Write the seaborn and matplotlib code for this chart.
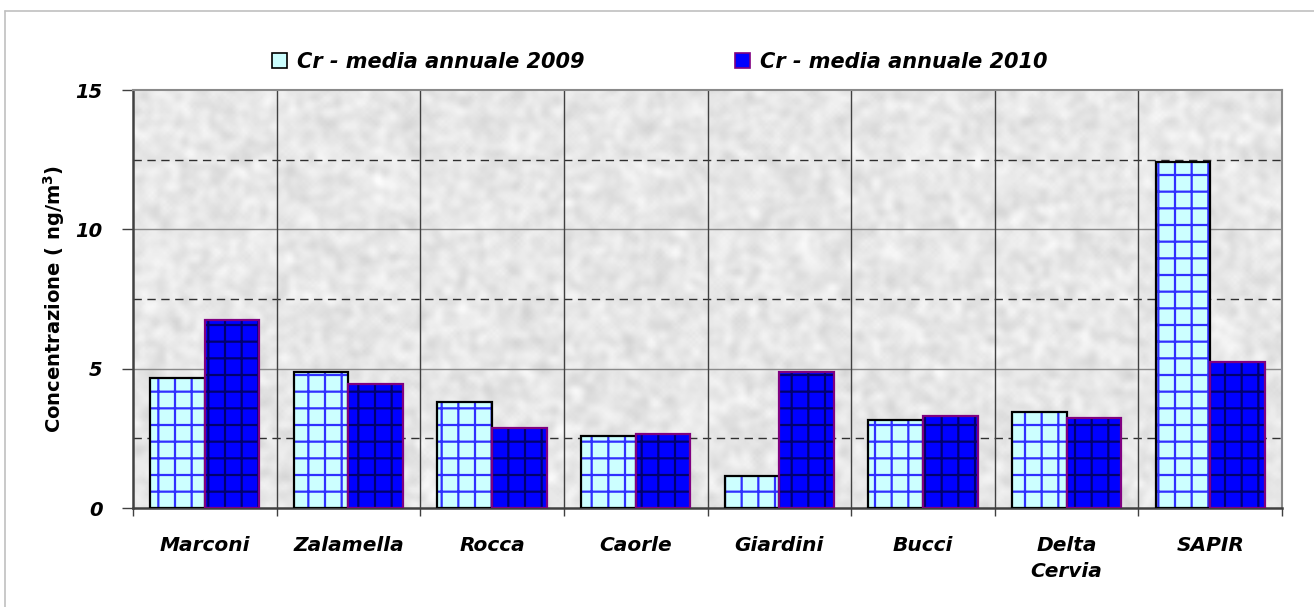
import numpy as np
import pandas as pd
import seaborn as sns
import matplotlib
matplotlib.use("Agg")
import matplotlib.pyplot as plt
from matplotlib.patches import Rectangle, Patch
from matplotlib.lines import Line2D
from matplotlib.ticker import FixedLocator

# Annual mean chromium concentration per station (ng/m3)
stations = ["Marconi", "Zalamella", "Rocca", "Caorle", "Giardini", "Bucci",
            "Delta\nCervia", "SAPIR"]
cr_2009 = [4.66, 4.88, 3.80, 2.58, 1.15, 3.16, 3.44, 12.41]
cr_2010 = [6.75, 4.45, 2.87, 2.66, 4.88, 3.30, 3.23, 5.24]
series = ["Cr - media annuale 2009", "Cr - media annuale 2010"]
y_ticks = [0, 5, 10, 15]
dashed_levels = [2.5, 7.5, 12.5]

df = pd.DataFrame({
    "stazione": stations * 2,
    "serie": [series[0]] * len(stations) + [series[1]] * len(stations),
    "valore": cr_2009 + cr_2010,
})

sns.set_theme(style="white")
plt.rcParams["font.family"] = ["DejaVu Sans"]
plt.rcParams["hatch.linewidth"] = 1.6
for key in ["text.color", "axes.labelcolor", "xtick.color", "ytick.color"]:
    plt.rcParams[key] = "black"

W, H = 1314, 607
fig = plt.figure(figsize=(W / 100, H / 100), dpi=100)
fig.patch.set_facecolor("white")
ax = fig.add_axes([133 / W, 1 - 508 / H, (1282 - 133) / W, (508 - 90) / H])

# mottled stone-like backdrop of the plotting area
rng = np.random.default_rng(7)
tex = rng.random((140, 380))
for _ in range(3):
    tex = (tex + np.roll(tex, 1, 0) + np.roll(tex, -1, 0)
           + np.roll(tex, 1, 1) + np.roll(tex, -1, 1)) / 5
tex = (tex - tex.min()) / (tex.max() - tex.min())
ax.imshow(tex, cmap="gray", vmin=-5.0, vmax=1.05, aspect="auto",
          extent=(-0.5, 7.5, 0, 15), zorder=0.1, interpolation="bilinear")

face = {series[0]: "#ccffff", series[1]: "#0000ff"}
hatch_col = {series[0]: "#3030ff", series[1]: "#000070"}
edge_col = {series[0]: "#000000", series[1]: "#800080"}

sns.barplot(data=df, x="stazione", y="valore", hue="serie", order=stations,
            hue_order=series, palette=face, width=0.76, dodge=True,
            legend=False, ax=ax, zorder=3)

for container, name in zip(ax.containers, series):
    for bar in container:
        bar.set_facecolor(face[name])
        bar.set_edgecolor(hatch_col[name])
        bar.set_hatch("+")
        bar.set_linewidth(0)
        ax.add_patch(Rectangle((bar.get_x(), bar.get_y()), bar.get_width(),
                               bar.get_height(), fill=False,
                               edgecolor=edge_col[name], linewidth=1.6,
                               zorder=4))

ax.set_xlim(-0.5, 7.5)
ax.set_ylim(0, 15)
ax.set_yticks(y_ticks)
ax.set_yticklabels([str(t) for t in y_ticks], fontsize=14,
                   fontweight="bold", fontstyle="italic")
ax.set_xticks(range(len(stations)))
ax.set_xticklabels(stations, fontsize=14.5, fontweight="bold",
                   fontstyle="italic", linespacing=1.5)
ax.xaxis.set_minor_locator(FixedLocator(np.arange(-0.5, 8, 1)))
ax.tick_params(axis="x", which="major", length=0, pad=20)
ax.tick_params(axis="x", which="minor", length=6, width=1, color="#404040",
               direction="out", bottom=True)
ax.tick_params(axis="y", which="major", length=8, width=1, color="#404040",
               direction="out", left=True, pad=14)
ax.set_xlabel("")
ax.set_ylabel("Concentrazione ( ng/m$\\mathbf{^3}$)", fontsize=14,
              fontweight="bold", labelpad=6)

# grid: solid at the major levels, dashed at the half steps
ax.grid(False)
for v in y_ticks[1:-1]:
    ax.axhline(v, color="#8a8a8a", linewidth=1.0, zorder=1)
for v in dashed_levels:
    ax.axhline(v, color="#303030", linewidth=1.0, dashes=(6, 4), zorder=1)
for b in np.arange(0.5, 7.5, 1):
    ax.axvline(b, color="#404040", linewidth=1.0, zorder=1)

for side in ["left", "bottom"]:
    ax.spines[side].set_color("#404040")
    ax.spines[side].set_linewidth(1.8)
for side in ["top", "right"]:
    ax.spines[side].set_color("#8a8a8a")
    ax.spines[side].set_linewidth(1.5)

handles = [Patch(facecolor=face[s], edgecolor=edge_col[s], linewidth=1.2)
           for s in series]
leg = fig.legend(handles, series, loc="center", ncol=2,
                 bbox_to_anchor=(660 / W, 1 - 62 / H), frameon=False,
                 prop={"size": 15, "weight": "bold", "style": "italic"},
                 handlelength=0.7, handleheight=0.7, handletextpad=0.5,
                 columnspacing=7.2)

# thin light frame of the chart area
fig.add_artist(Line2D([5 / W, 1], [1 - 11 / H, 1 - 11 / H],
                      transform=fig.transFigure, color="#c0c0c0", lw=1.2))
fig.add_artist(Line2D([5 / W, 5 / W], [0, 1 - 11 / H],
                      transform=fig.transFigure, color="#c0c0c0", lw=1.2))

fig.savefig("out.png", dpi=100)
